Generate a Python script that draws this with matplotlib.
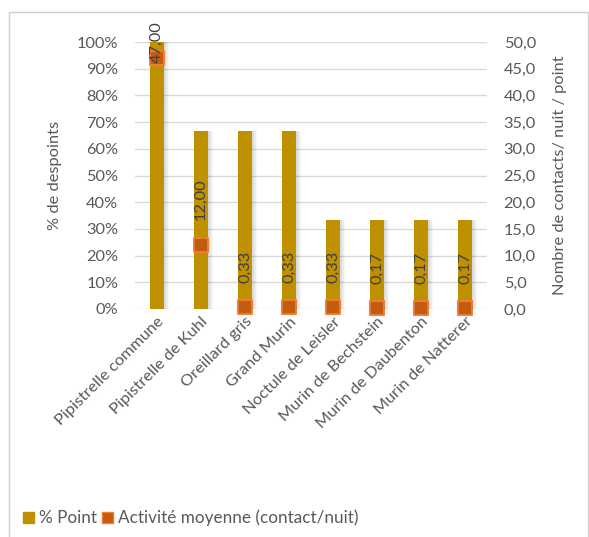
import matplotlib
matplotlib.use("Agg")
import matplotlib.pyplot as plt
from matplotlib.patches import Rectangle
from matplotlib.ticker import FuncFormatter, MultipleLocator
import numpy as np

# Species and their values
species = ["Pipistrelle commune", "Pipistrelle de Kuhl", "Oreillard gris", "Grand Murin",
           "Noctule de Leisler", "Murin de Bechstein", "Murin de Daubenton", "Murin de Natterer"]
pct_points = [100.0, 66.67, 66.67, 66.67, 33.33, 33.33, 33.33, 33.33]
activity = [47.00, 12.00, 0.33, 0.33, 0.33, 0.17, 0.17, 0.17]
activity_labels = ["47,00", "12,00", "0,33", "0,33", "0,33", "0,17", "0,17", "0,17"]

BAR = "#BF9000"
MARK = "#C55A11"
MARK_EDGE = "#F07C32"
TXT = "#595959"
GRID = "#D9D9D9"
FS = 11.8

plt.rcParams["font.family"] = ["Lato", "DejaVu Sans"]

fig = plt.figure(figsize=(5.89, 5.37), dpi=100)
fig.patches.append(Rectangle((9 / 589, -0.01), (588 - 9) / 589, 1 - 12 / 537 + 0.01,
                             transform=fig.transFigure, fill=False,
                             edgecolor="#D0D0D0", linewidth=1.0))

ax = fig.add_axes([135 / 589, 1 - 309 / 537, (487 - 135) / 589, (309 - 42) / 537])
ax2 = ax.twinx()

x = np.arange(len(species))
w = 0.32

# soft shadow to the right of each bar
for k, a in enumerate([0.10, 0.07, 0.04]):
    ax.bar(x + 0.05 + k * 0.035, pct_points, width=w, color="#555555", alpha=a,
           zorder=1, linewidth=0)
ax.bar(x, pct_points, width=w, color=BAR, zorder=2, linewidth=0, label="% Point")

ax.set_xlim(-0.5, len(species) - 0.5)
ax.set_ylim(0, 100)
ax.yaxis.set_major_locator(MultipleLocator(10))
ax.yaxis.set_major_formatter(FuncFormatter(lambda v, p: f"{v:.0f}%"))
ax.grid(axis="y", color=GRID, linewidth=1.0, zorder=0)
ax.set_axisbelow(True)
for s in ax.spines.values():
    s.set_visible(False)
for s in ax2.spines.values():
    s.set_visible(False)
ax.tick_params(axis="y", length=0, pad=12, labelsize=FS, labelcolor=TXT)
ax.tick_params(axis="x", length=0, pad=4, labelsize=FS, labelcolor=TXT)
ax.set_xticks(x)
ax.set_xticklabels(species, rotation=45, ha="right", rotation_mode="anchor")
ax.set_ylabel("% de despoints", fontsize=FS, color=TXT, labelpad=11)

ax2.set_ylim(0, 50)
ax2.yaxis.set_major_locator(MultipleLocator(5))
ax2.yaxis.set_major_formatter(FuncFormatter(lambda v, p: f"{v:.1f}".replace(".", ",")))
ax2.tick_params(axis="y", length=0, pad=12, labelsize=FS, labelcolor=TXT)
ax2.set_ylabel("Nombre de contacts/ nuit / point", fontsize=FS, color=TXT, labelpad=12)

ax2.scatter(x, activity, marker="s", s=95, color=MARK, edgecolors=MARK_EDGE,
            linewidths=1.4, zorder=5, clip_on=False, label="Activité moyenne (contact/nuit)")

# value labels above markers, kept inside the chart area
for xi, v, lab in zip(x, activity, activity_labels):
    y0 = min(v + 4.6, 46.0)
    ax2.text(xi, y0, lab, rotation=90, ha="center", va="bottom", fontsize=FS,
             color="#404040", zorder=6)

ax.set_zorder(ax2.get_zorder() - 1)
ax.patch.set_visible(False)

# legend
h1 = [plt.Rectangle((0, 0), 1, 1, color=BAR)]
h2 = [plt.Rectangle((0, 0), 1, 1, facecolor=MARK, edgecolor=MARK_EDGE)]
fig.legend(h1 + h2, ["% Point", "Activité moyenne (contact/nuit)"], loc="center left",
           bbox_to_anchor=(16 / 589, 1 - 518 / 537), ncol=2, frameon=False,
           fontsize=12.3, labelcolor=TXT, handlelength=0.65, handleheight=0.65,
           handletextpad=0.3, columnspacing=0.3, borderaxespad=0)

fig.savefig("out.png", dpi=100)
